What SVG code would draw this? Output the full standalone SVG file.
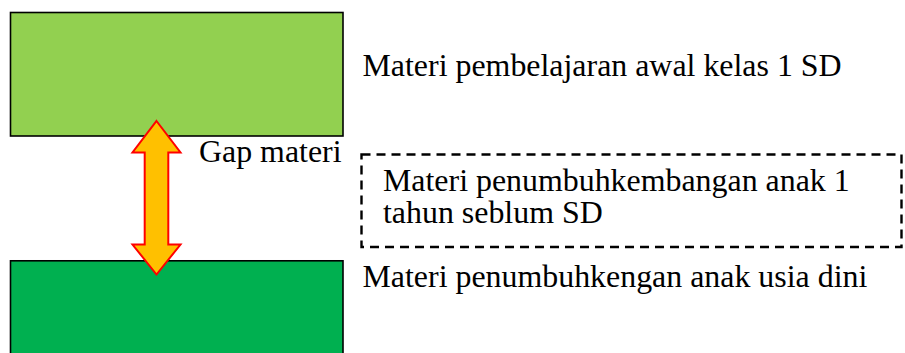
<svg xmlns="http://www.w3.org/2000/svg" width="905" height="353" viewBox="0 0 905 353">
<style>
.box{stroke:#000;stroke-width:1.6}
.lbl{font-family:"Liberation Serif","Times New Roman",serif;font-size:31.9px;fill:#000}
</style>
<rect width="905" height="353" fill="#fff"/>
<g id="top-box">
<rect class="box" x="10.5" y="12.5" width="332.5" height="123.5" fill="#92D050"/>
<text class="lbl" x="362.5" y="75.7">Materi pembelajaran awal kelas 1 SD</text>
</g>
<g id="bottom-box">
<rect class="box" x="10.5" y="260.8" width="332.5" height="100" fill="#00B050"/>
<text class="lbl" x="362.5" y="286.7">Materi penumbuhkengan anak usia dini</text>
</g>
<g id="dashed-box">
<rect x="361.5" y="154.5" width="540" height="92.5" fill="none" stroke="#000" stroke-width="2.4" stroke-dasharray="9,6"/>
<text class="lbl" x="383" y="190.5">Materi penumbuhkembangan anak 1</text>
<text class="lbl" x="383" y="222.5">tahun seblum SD</text>
</g>
<g id="connectors">
<path d="M156.5,121 L180.5,152.5 L168.3,152.5 L168.3,244.5 L180.5,244.5 L156.5,274.5 L132.5,244.5 L144.7,244.5 L144.7,152.5 L132.5,152.5 Z" fill="#FFC000" stroke="#FF0000" stroke-width="2" stroke-linejoin="miter"/>
<text class="lbl" x="199" y="161.7">Gap materi</text>
</g>
</svg>
